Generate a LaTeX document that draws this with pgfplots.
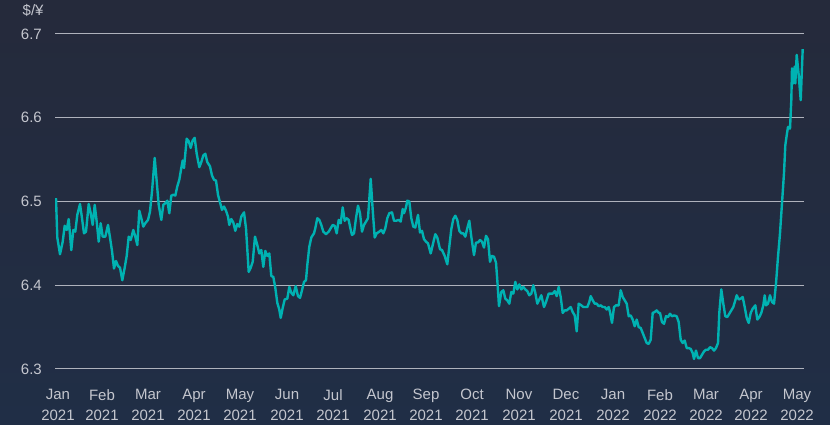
\documentclass[border=0pt]{standalone}
\usepackage{pgfplots}
\pgfplotsset{compat=1.18}
\usepackage{fontspec}
\setmainfont{Liberation Sans}
\definecolor{bgtop}{RGB}{37,42,59}
\definecolor{bgbot}{RGB}{32,46,70}
\definecolor{lab}{RGB}{196,198,206}
\definecolor{gridc}{RGB}{175,178,188}
\definecolor{teal}{RGB}{0,178,178}
\pgfplotstableread{
t v
56 6.504
57.3 6.457
60 6.437
62.7 6.452
64.7 6.471
66.7 6.466
68.7 6.479
71.3 6.442
73.3 6.466
75.3 6.464
77.3 6.484
80 6.497
82 6.480
84 6.462
86 6.464
88.7 6.497
90.7 6.486
92.7 6.472
94.7 6.496
96.7 6.476
98.7 6.452
100.7 6.474
102.7 6.458
105.3 6.458
108 6.472
110 6.457
112 6.441
114 6.420
116 6.429
118 6.423
120 6.421
122.3 6.406
124.7 6.421
126.7 6.435
128.7 6.458
130.7 6.454
133.3 6.466
135.3 6.458
137.3 6.448
139.3 6.489
141.3 6.480
143.3 6.470
145.3 6.474
148 6.478
150 6.488
152 6.512
154.7 6.552
156.7 6.524
158.7 6.496
161.3 6.478
163.3 6.496
165.3 6.498
167.3 6.501
169.3 6.486
171.3 6.507
173.3 6.508
175.3 6.507
177.3 6.518
179.3 6.526
181.3 6.540
182.7 6.549
184 6.540
186.7 6.575
188.7 6.572
190.7 6.564
192.7 6.573
194.7 6.576
196.7 6.557
199.3 6.541
201.3 6.547
203.3 6.555
205.3 6.557
207.3 6.547
210 6.542
212 6.531
214 6.526
216 6.525
218 6.508
220 6.499
222 6.490
224 6.494
226 6.489
228 6.482
229.3 6.472
231.3 6.479
233.3 6.475
235.3 6.465
237.3 6.473
239.3 6.470
241.3 6.482
244 6.487
246 6.468
248.7 6.416
250.7 6.421
252.7 6.428
255 6.458
257.3 6.448
259.3 6.438
261.3 6.442
263.3 6.422
265.3 6.441
267.3 6.435
269.3 6.438
271.3 6.411
273.3 6.410
275.3 6.397
277.3 6.379
279.3 6.371
280.7 6.361
282.7 6.373
284.7 6.383
287.3 6.384
289.3 6.398
291.3 6.391
293.3 6.388
295.7 6.399
298 6.387
300 6.385
302 6.394
304 6.404
306 6.406
307.3 6.424
309.3 6.446
311.3 6.457
314 6.462
315.3 6.468
317.3 6.480
319.3 6.478
321.3 6.472
323.3 6.464
326 6.461
328.7 6.464
330.7 6.468
332.7 6.472
334.7 6.471
336.7 6.462
338.7 6.478
340.7 6.474
342.7 6.493
344.7 6.477
346.7 6.480
348.7 6.478
350 6.470
352 6.460
354 6.462
356 6.480
358 6.495
360 6.486
362 6.464
364 6.472
366 6.476
368 6.480
370.7 6.527
372.7 6.490
374.7 6.457
376.7 6.462
379.3 6.464
381.3 6.466
383.3 6.462
385.3 6.468
387.3 6.480
389.3 6.486
392 6.487
394 6.477
396 6.477
398.7 6.478
400.7 6.476
402.7 6.491
404 6.486
406 6.493
407.3 6.501
409.3 6.500
411.3 6.480
413.3 6.470
415.3 6.469
418 6.484
420 6.463
422 6.465
424 6.455
426 6.452
428 6.450
430.7 6.438
432.7 6.448
435.3 6.461
437.3 6.457
440 6.443
442 6.442
444.7 6.435
447.3 6.425
449.3 6.446
451.3 6.467
453.3 6.479
455.3 6.483
457.3 6.478
459.3 6.465
461.3 6.462
463.3 6.462
465.3 6.458
467.3 6.468
469.3 6.477
471.3 6.458
474 6.436
476 6.451
478 6.451
480 6.454
482 6.452
484 6.445
486 6.459
488 6.455
490 6.428
492 6.435
494 6.434
496 6.427
497.3 6.406
499 6.375
501.3 6.392
503.3 6.394
505.3 6.384
507.3 6.382
509.3 6.378
511.3 6.392
513.3 6.390
515.3 6.404
517.3 6.395
519.3 6.401
521.3 6.395
523.3 6.398
525.3 6.395
527.3 6.393
529.3 6.388
531.3 6.390
533.3 6.400
535.3 6.391
537.3 6.378
539.3 6.383
541.3 6.388
544 6.374
546 6.380
548.7 6.390
550.7 6.390
552.7 6.390
554.7 6.393
556.7 6.387
558.7 6.398
560.7 6.386
562.7 6.367
564.7 6.370
566.7 6.370
568.7 6.372
570.7 6.374
572.7 6.368
574.7 6.364
576.7 6.345
578.7 6.378
581.3 6.376
583.3 6.374
585.3 6.374
587.3 6.374
589.3 6.380
590.7 6.387
592.7 6.382
594.7 6.378
596.7 6.378
598.7 6.375
600.7 6.376
602.7 6.374
604.7 6.374
606.7 6.371
608.7 6.374
610 6.368
612 6.355
614 6.374
616 6.376
618.7 6.376
620.7 6.394
622.7 6.386
624.7 6.382
626.7 6.378
628.7 6.363
630.7 6.364
632.7 6.359
634.7 6.351
636.7 6.359
638.7 6.350
640.7 6.349
642.7 6.343
644.7 6.337
646.7 6.331
648.7 6.330
650.7 6.335
652.7 6.367
654.7 6.368
656.7 6.370
658.7 6.367
660 6.367
662 6.356
664 6.354
666 6.363
668 6.362
670 6.366
672 6.363
674 6.364
676.7 6.363
678.7 6.356
680.7 6.335
682.7 6.331
684.7 6.334
686.7 6.325
688.7 6.325
690.7 6.324
692.7 6.319
694 6.312
696 6.322
698 6.313
700 6.313
702 6.317
704 6.321
706 6.323
708 6.323
710 6.326
712 6.325
714 6.322
716 6.325
718 6.331
719.3 6.367
721.3 6.395
723.3 6.378
725.3 6.363
727.3 6.362
729.3 6.366
731.3 6.370
733.3 6.374
735.3 6.382
736.7 6.388
738.7 6.383
740.7 6.384
742.7 6.386
744.7 6.374
746.7 6.361
748.7 6.355
750.7 6.367
752.7 6.372
755.3 6.376
757.3 6.359
759.3 6.362
761.3 6.367
763.3 6.376
764.7 6.388
766 6.376
768 6.378
770 6.388
772 6.380
774 6.378
776 6.402
778 6.434
780 6.462
782 6.498
784 6.534
785.3 6.567
786.7 6.579
788 6.589
790 6.587
791.3 6.621
792 6.659
793.3 6.641
794.7 6.661
795.3 6.641
796.7 6.675
798.7 6.651
800.7 6.621
802.7 6.682
}\fx
\begin{document}
\begin{tikzpicture}[x=1pt,y=1pt]
\shade[top color=bgtop, bottom color=bgbot] (0,0) rectangle (830,425);
\node[anchor=west, inner sep=0pt, text=lab, font=\fontsize{15}{18}\selectfont] at (22.5,415) {\$/¥};
\begin{axis}[
  at={(55pt,56pt)}, anchor=south west,
  scale only axis, width=749pt, height=335pt,
  xmin=55, xmax=804, ymin=6.3, ymax=6.7,
  axis line style={draw=none},
  major tick length=0pt,
  ytick={6.3,6.4,6.5,6.6,6.7},
  yticklabels={6.3,6.4,6.5,6.6,6.7},
  ymajorgrids,
  grid style={gridc, line width=1pt},
  xtick={58,102,148,194,240,287,333,380,426,472,519,566,613,660,706,751,797},
  xticklabels={{Jan\\2021},{Feb\\2021},{Mar\\2021},{Apr\\2021},{May\\2021},{Jun\\2021},{Jul\\2021},{Aug\\2021},{Sep\\2021},{Oct\\2021},{Nov\\2021},{Dec\\2021},{Jan\\2022},{Feb\\2022},{Mar\\2022},{Apr\\2022},{May\\2022}},
  yticklabel style={anchor=east, inner sep=0pt, xshift=-13pt, text=lab, font=\fontsize{15}{18}\selectfont},
  xticklabel style={anchor=north, inner sep=0pt, yshift=-20pt, align=center, text=lab, font=\fontsize{15}{20.7}\selectfont},
]
\addplot[teal, line width=2.4pt, line join=round, no markers] table[x=t, y=v] {\fx};
\end{axis}
\end{tikzpicture}
\end{document}
